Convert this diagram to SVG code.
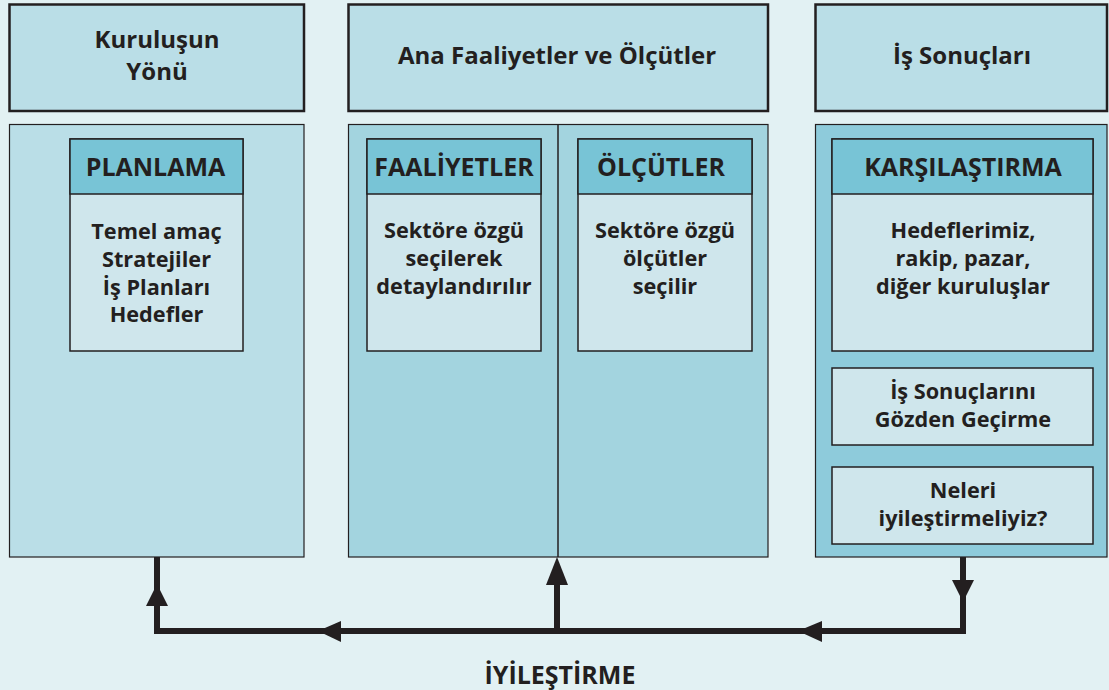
<svg xmlns="http://www.w3.org/2000/svg" width="1109" height="690" viewBox="0 0 1109 690">
<defs>
<style>
.bg{fill:#e2f1f3}
.top{fill:#badee7;stroke:#231f20;stroke-width:2.5}
.pl{fill:#badee7;stroke:#231f20;stroke-width:1.2}
.pm{fill:#a3d4df;stroke:#231f20;stroke-width:1.2}
.pr{fill:#8ecbdb;stroke:#231f20;stroke-width:1.2}
.hd{fill:#78c4d6;stroke:#231f20;stroke-width:1.5}
.bd{fill:#cfe6ec;stroke:#231f20;stroke-width:1.5}
text{font-family:"Open Sans","Noto Sans","DejaVu Sans",sans-serif;font-weight:bold;fill:#231f20;text-anchor:middle}
.t{font-size:24px}
.h{font-size:25px}
.b{font-size:21.7px}
.ln{fill:none;stroke:#231f20;stroke-width:6;stroke-linejoin:miter}
.ar{fill:#231f20}
</style>
</defs>
<rect class="bg" x="0" y="0" width="1109" height="690"/>
<g id="kurulus-baslik">
<rect class="top" x="9.5" y="4.5" width="294.5" height="106.5"/>
<text class="t" x="157" y="48">Kuruluşun</text>
<text class="t" x="157" y="80">Yönü</text>
</g>
<g id="ana-baslik">
<rect class="top" x="348.5" y="4.5" width="419.5" height="106.5"/>
<text class="t" x="557" y="64">Ana Faaliyetler ve Ölçütler</text>
</g>
<g id="is-baslik">
<rect class="top" x="815.5" y="4.5" width="291.5" height="106.5"/>
<text class="t" x="962" y="64">İş Sonuçları</text>
</g>
<g id="panel-sol">
<rect class="pl" x="9.5" y="124.5" width="294.5" height="432.5"/>
</g>
<g id="panel-orta">
<rect class="pm" x="348.5" y="124.5" width="419.5" height="432.5"/>
<line x1="558" y1="124.5" x2="558" y2="557" stroke="#231f20" stroke-width="1.5"/>
</g>
<g id="panel-sag">
<rect class="pr" x="815.5" y="124.5" width="291.5" height="432.5"/>
</g>
<g id="planlama">
<rect class="bd" x="70" y="139" width="173" height="212"/>
<rect class="hd" x="70" y="139" width="173" height="55"/>
<text class="h" x="155.5" y="176">PLANLAMA</text>
<text class="b" x="156.5" y="239">Temel amaç</text>
<text class="b" x="156.5" y="267">Stratejiler</text>
<text class="b" x="156.5" y="295">İş Planları</text>
<text class="b" x="156.5" y="322">Hedefler</text>
</g>
<g id="faaliyetler">
<rect class="bd" x="367" y="139" width="174" height="212"/>
<rect class="hd" x="367" y="139" width="174" height="55"/>
<text class="h" x="454" y="176">FAALİYETLER</text>
<text class="b" x="454" y="238">Sektöre özgü</text>
<text class="b" x="454" y="266">seçilerek</text>
<text class="b" x="454" y="294">detaylandırılır</text>
</g>
<g id="olcutler">
<rect class="bd" x="578" y="139" width="174" height="212"/>
<rect class="hd" x="578" y="139" width="174" height="55"/>
<text class="h" x="661" y="176">ÖLÇÜTLER</text>
<text class="b" x="665" y="238">Sektöre özgü</text>
<text class="b" x="665" y="266">ölçütler</text>
<text class="b" x="665" y="294">seçilir</text>
</g>
<g id="karsilastirma">
<rect class="bd" x="832" y="139" width="261" height="212"/>
<rect class="hd" x="832" y="139" width="261" height="55"/>
<text class="h" x="963" y="176">KARŞILAŞTIRMA</text>
<text class="b" x="963" y="238">Hedeflerimiz,</text>
<text class="b" x="963" y="266">rakip, pazar,</text>
<text class="b" x="963" y="294">diğer kuruluşlar</text>
</g>
<g id="gozden-gecirme">
<rect class="bd" x="832" y="368" width="261" height="77"/>
<text class="b" x="963" y="399">İş Sonuçlarını</text>
<text class="b" x="963" y="427">Gözden Geçirme</text>
</g>
<g id="neleri">
<rect class="bd" x="832" y="467" width="261" height="77"/>
<text class="b" x="963" y="498">Neleri</text>
<text class="b" x="963" y="526">iyileştirmeliyiz?</text>
</g>
<g id="baglantilar">
<polyline class="ln" points="963,557 963,631 157,631 157,557"/>
<line class="ln" x1="557" y1="631" x2="557" y2="584"/>
<polygon class="ar" points="146,606 168,606 157,584"/>
<polygon class="ar" points="546,585 568,585 557,557"/>
<polygon class="ar" points="952,580 974,580 963,602"/>
<polygon class="ar" points="341,621 341,642 318,631"/>
<polygon class="ar" points="822,621 822,642 798,631"/>
</g>
<g id="iyilestirme">
<text class="h" x="560" y="684">İYİLEŞTİRME</text>
</g>
</svg>
